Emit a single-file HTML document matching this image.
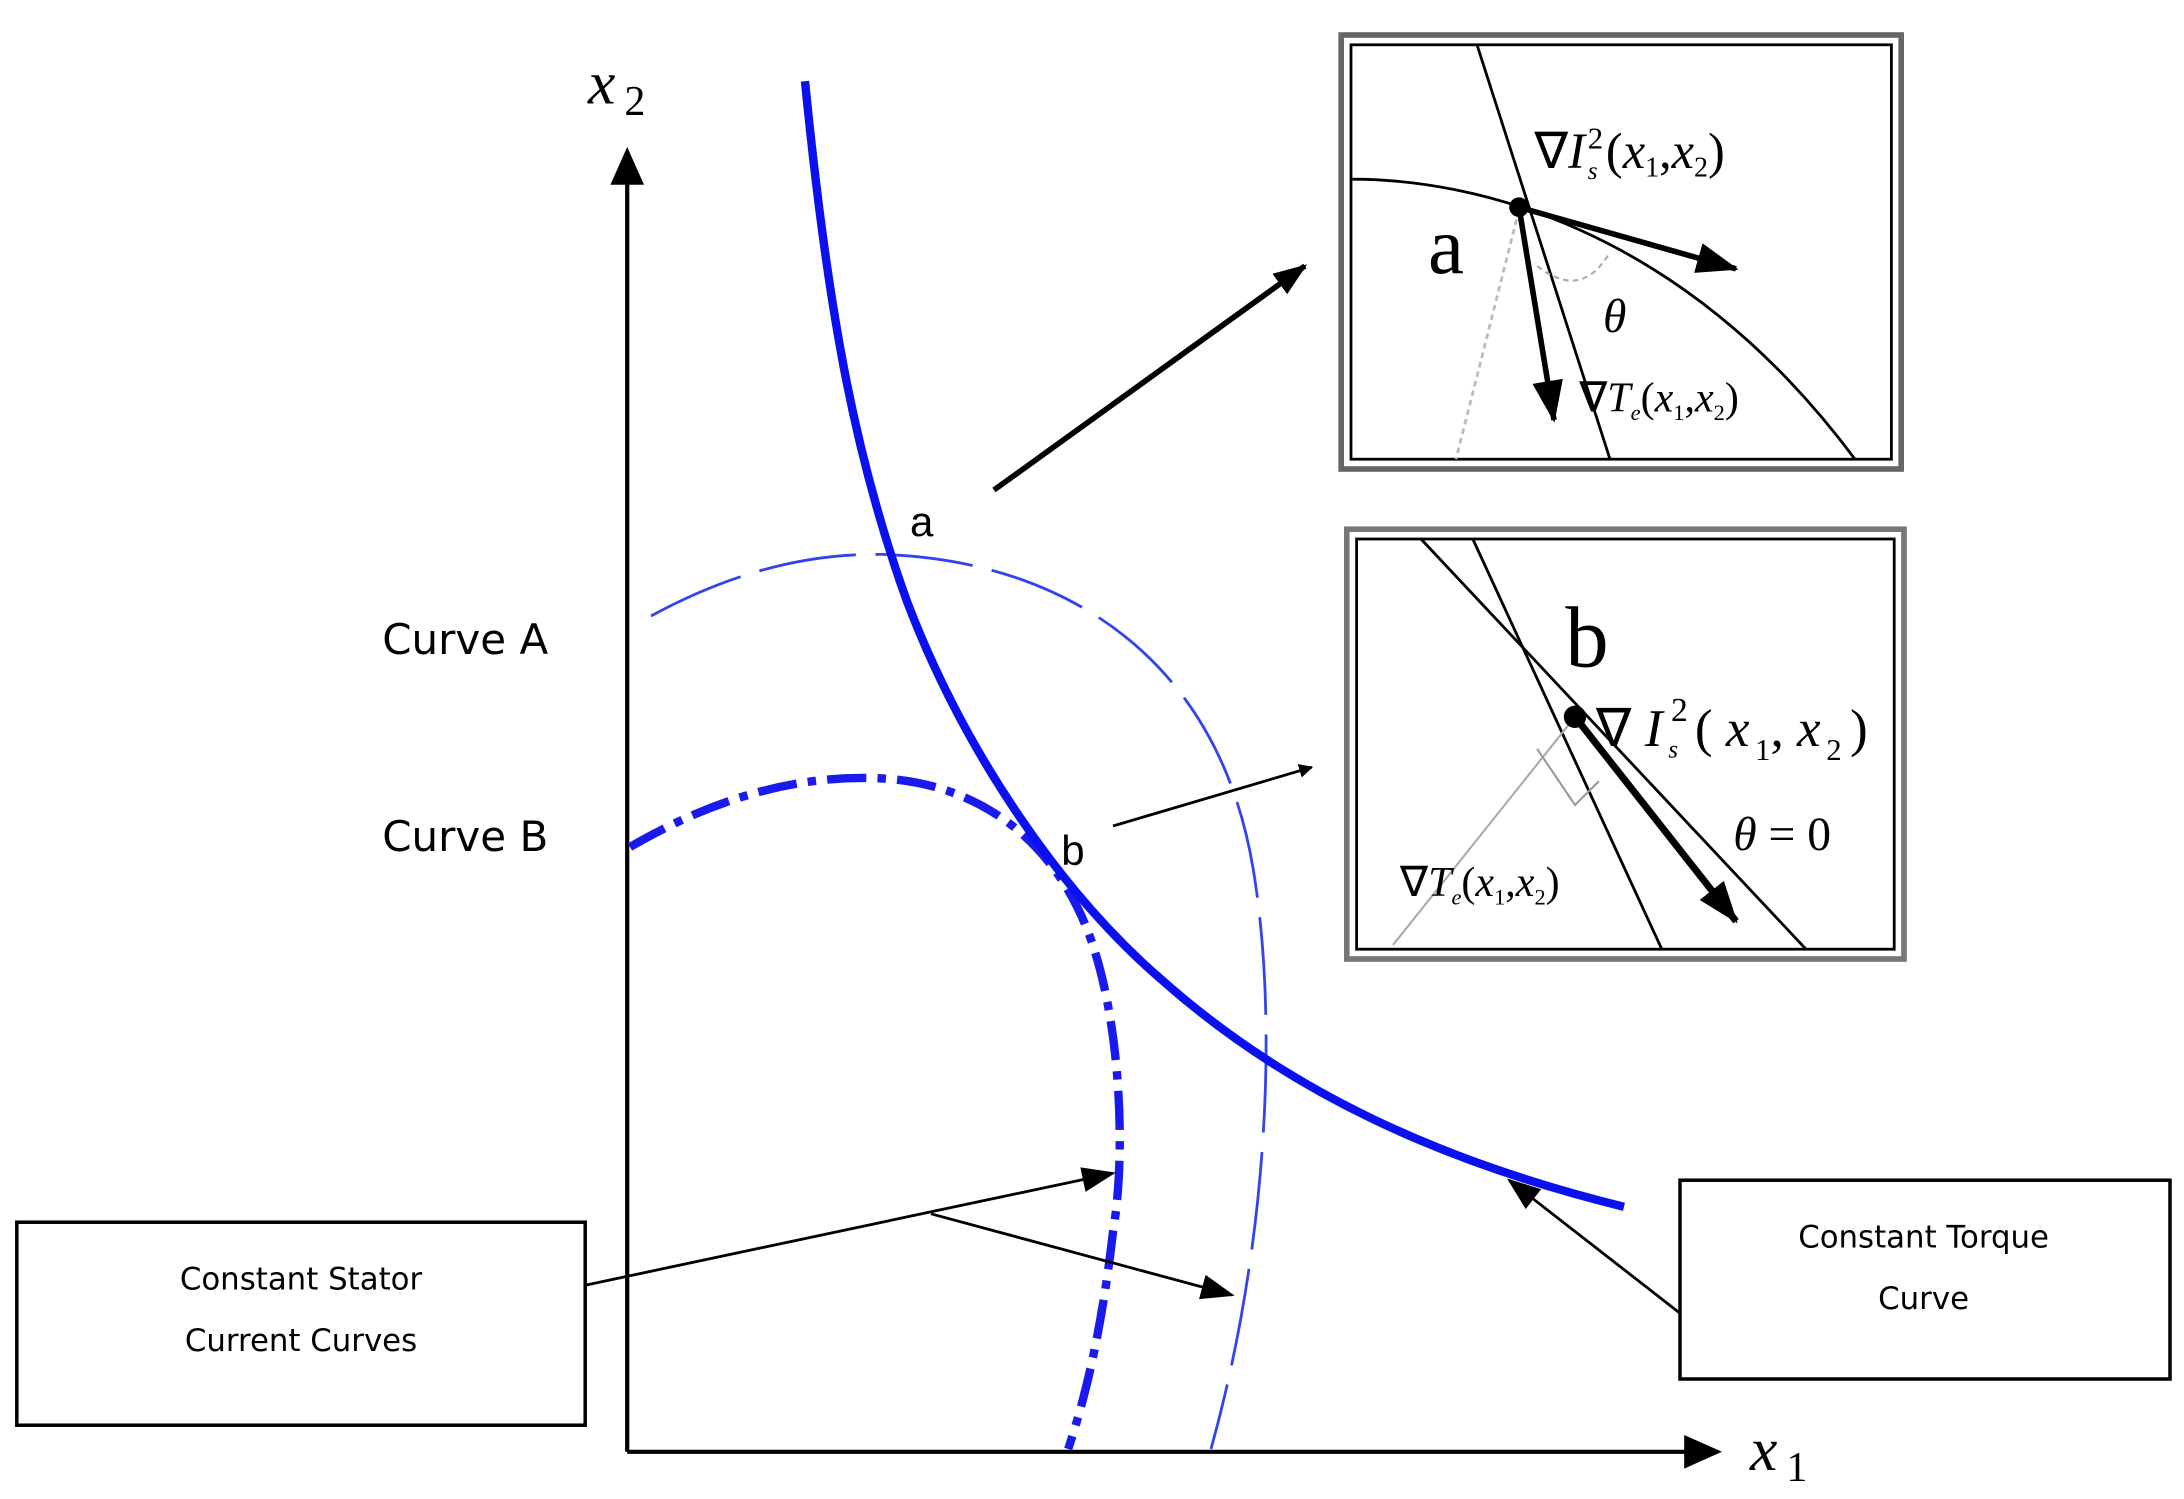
<!DOCTYPE html>
<html><head><meta charset="utf-8"><style>
html,body{margin:0;padding:0;background:#fff;}
svg{display:block;}
</style></head><body>
<svg width="2184" height="1499" viewBox="0 0 1560 1070.7" xmlns="http://www.w3.org/2000/svg">
<defs>
<marker id="ah" markerWidth="10" markerHeight="10" refX="9" refY="5" orient="auto" markerUnits="userSpaceOnUse"><path d="M0,0 L10,5 L0,10 Z" fill="#000"/></marker>
<marker id="ahb" markerWidth="30" markerHeight="22" refX="28" refY="11" orient="auto" markerUnits="userSpaceOnUse"><path d="M0,0 L30,11 L0,22 Z" fill="#000"/></marker>
<marker id="ahm" markerWidth="24" markerHeight="18" refX="22" refY="9" orient="auto" markerUnits="userSpaceOnUse"><path d="M0,0 L24,9 L0,18 Z" fill="#000"/></marker>
</defs>
<line x1="448" y1="1037" x2="448" y2="130" stroke="#000" stroke-width="3"/>
<path d="M436,132 L448,105 L460,132 Z" fill="#000"/>
<line x1="448" y1="1037" x2="1205" y2="1037" stroke="#000" stroke-width="3"/>
<path d="M1203,1025 L1230,1037 L1203,1049 Z" fill="#000"/>
<text x="420" y="74" font-family="Liberation Serif, serif" font-style="italic" font-size="44">x</text>
<text x="446" y="82" font-family="Liberation Serif, serif" font-size="30">2</text>
<text x="1250" y="1050" font-family="Liberation Serif, serif" font-style="italic" font-size="44">x</text>
<text x="1276" y="1058" font-family="Liberation Serif, serif" font-size="30">1</text>
<path d="M465,440 C520,410 575,395 630,396 C760,400 870,470 895,620 C912,720 908,880 865,1035" fill="none" stroke="#3344ee" stroke-width="2" stroke-dasharray="70,14"/>
<path d="M450,605 C510,570 570,553 630,556 C700,560 750,600 775,660 C800,720 805,820 795,880 C788,940 778,990 763,1035" fill="none" stroke="#1a1aee" stroke-width="6" stroke-dasharray="28,8,6,8"/>
<path d="M575,58 C592,230 612,330 648,430 C690,540 760,640 830,700 C920,780 1030,830 1160,862" fill="none" stroke="#0a10ee" stroke-width="6"/>
<text x="650" y="383" font-family="Liberation Sans, sans-serif" font-size="30">a</text>
<text x="758" y="618" font-family="Liberation Sans, sans-serif" font-size="30">b</text>
<text x="273" y="467" font-family="DejaVu Sans, sans-serif" font-size="30">Curve  A</text>
<text x="273" y="608" font-family="DejaVu Sans, sans-serif" font-size="30">Curve  B</text>
<line x1="710" y1="350" x2="932" y2="190" stroke="#000" stroke-width="4" marker-end="url(#ahm)"/>
<line x1="795" y1="590" x2="937" y2="548" stroke="#000" stroke-width="2" marker-end="url(#ah)"/>
<line x1="418" y1="918" x2="795" y2="838" stroke="#000" stroke-width="2" marker-end="url(#ahm)"/>
<line x1="665" y1="867" x2="880" y2="925" stroke="#000" stroke-width="2" marker-end="url(#ahm)"/>
<line x1="1200" y1="938" x2="1078" y2="843" stroke="#000" stroke-width="2" marker-end="url(#ahm)"/>
<rect x="12" y="873" width="406" height="145" fill="#fff" stroke="#000" stroke-width="2.5"/>
<text x="215" y="921" text-anchor="middle" font-family="DejaVu Sans, sans-serif" font-size="22">Constant Stator</text>
<text x="215" y="965" text-anchor="middle" font-family="DejaVu Sans, sans-serif" font-size="22">Current Curves</text>
<rect x="1200" y="843" width="350" height="142" fill="#fff" stroke="#000" stroke-width="2.5"/>
<text x="1374" y="891" text-anchor="middle" font-family="DejaVu Sans, sans-serif" font-size="22">Constant Torque</text>
<text x="1374" y="935" text-anchor="middle" font-family="DejaVu Sans, sans-serif" font-size="22">Curve</text>
<rect x="958" y="25" width="400" height="310" fill="#fff" stroke="#666" stroke-width="4"/>
<rect x="965" y="32" width="386" height="296" fill="none" stroke="#000" stroke-width="2"/>
<path d="M966,128 C1050,128 1200,160 1325,328" fill="none" stroke="#000" stroke-width="2"/>
<line x1="1055" y1="32" x2="1150" y2="328" stroke="#000" stroke-width="2"/>
<line x1="1085" y1="150" x2="1040" y2="328" stroke="#bbb" stroke-width="2" stroke-dasharray="4,3"/>
<path d="M1098,190 Q1130,215 1150,180" fill="none" stroke="#aaa" stroke-width="1.5" stroke-dasharray="4,3"/>
<line x1="1085" y1="148" x2="1240" y2="192" stroke="#000" stroke-width="4" marker-end="url(#ahb)"/>
<line x1="1085" y1="148" x2="1110" y2="300" stroke="#000" stroke-width="4" marker-end="url(#ahb)"/>
<circle cx="1085" cy="148" r="7" fill="#000"/>
<text x="1020" y="195" font-family="Liberation Serif, serif" font-size="58">a</text>
<text x="1096" y="120" font-family="Liberation Serif, serif" font-size="36">∇<tspan font-style="italic">I</tspan><tspan font-size="22" dx="2" dy="-14">2</tspan><tspan font-size="18" font-style="italic" dx="-11" dy="22">s</tspan><tspan dx="6" dy="-8">(</tspan><tspan font-style="italic">x</tspan><tspan font-size="20" dy="6">1</tspan><tspan dy="-6">,</tspan><tspan font-style="italic">x</tspan><tspan font-size="20" dy="6">2</tspan><tspan dy="-6">)</tspan></text>
<text x="1145" y="237" font-family="Liberation Serif, serif" font-style="italic" font-size="34">θ</text>
<text x="1128" y="294" font-family="Liberation Serif, serif" font-size="30">∇<tspan font-style="italic">T</tspan><tspan font-size="16" font-style="italic" dy="6">e</tspan><tspan dy="-6">(</tspan><tspan font-style="italic">x</tspan><tspan font-size="16" dy="6">1</tspan><tspan dy="-6">,</tspan><tspan font-style="italic">x</tspan><tspan font-size="16" dy="6">2</tspan><tspan dy="-6">)</tspan></text>
<rect x="962" y="378" width="398" height="307" fill="#fff" stroke="#777" stroke-width="4"/>
<rect x="969" y="385" width="384" height="293" fill="none" stroke="#000" stroke-width="2"/>
<line x1="1015" y1="385" x2="1290" y2="678" stroke="#000" stroke-width="2"/>
<line x1="1052" y1="385" x2="1187" y2="678" stroke="#000" stroke-width="2"/>
<line x1="1125" y1="512" x2="995" y2="675" stroke="#aaa" stroke-width="1.5"/>
<path d="M1098,535 L1125,575 L1142,558" fill="none" stroke="#999" stroke-width="1.5"/>
<line x1="1125" y1="512" x2="1240" y2="658" stroke="#000" stroke-width="5" marker-end="url(#ahb)"/>
<circle cx="1125" cy="512" r="8" fill="#000"/>
<text x="1118" y="476" font-family="Liberation Serif, serif" font-size="62">b</text>
<text x="1140" y="533" font-family="Liberation Serif, serif" font-size="38">∇ <tspan font-style="italic">I</tspan><tspan font-size="24" dx="6" dy="-18">2</tspan><tspan font-size="18" font-style="italic" dx="-14" dy="26">s</tspan><tspan dx="12" dy="-8">( </tspan><tspan font-style="italic">x</tspan><tspan font-size="22" dx="4" dy="10">1</tspan><tspan dy="-10">,  </tspan><tspan font-style="italic">x</tspan><tspan font-size="22" dx="4" dy="10">2</tspan><tspan dx="6" dy="-10">)</tspan></text>
<text x="1238" y="607" font-family="Liberation Serif, serif" font-size="34"><tspan font-style="italic">θ</tspan> = 0</text>
<text x="1000" y="640" font-family="Liberation Serif, serif" font-size="30">∇<tspan font-style="italic">T</tspan><tspan font-size="16" font-style="italic" dy="6">e</tspan><tspan dy="-6">(</tspan><tspan font-style="italic">x</tspan><tspan font-size="16" dy="6">1</tspan><tspan dy="-6">,</tspan><tspan font-style="italic">x</tspan><tspan font-size="16" dy="6">2</tspan><tspan dy="-6">)</tspan></text>
</svg>
</body></html>
